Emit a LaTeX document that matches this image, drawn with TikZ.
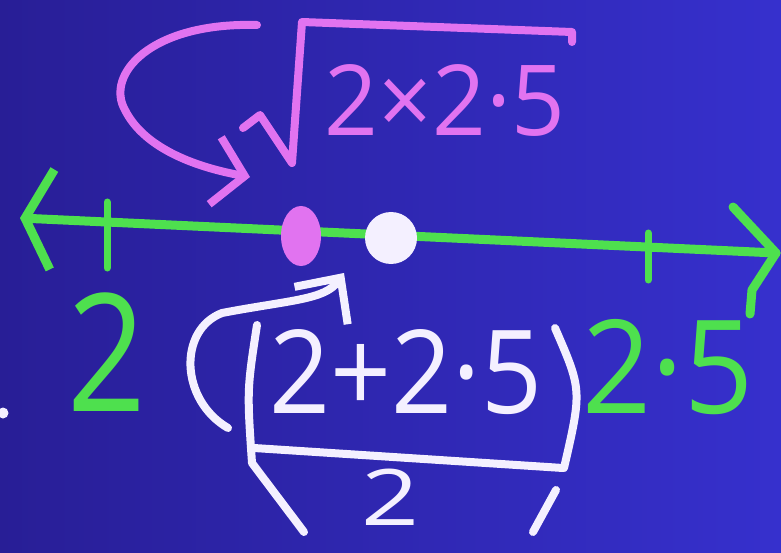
\documentclass[tikz,border=0pt]{standalone}
\usepackage{fontspec}
\setmainfont{Open Sans}
\usetikzlibrary{positioning,arrows.meta,calc,shapes.geometric}
\definecolor{boardL}{RGB}{40,30,150}
\definecolor{boardR}{RGB}{54,48,205}
\definecolor{chalkG}{HTML}{4EE04E}
\definecolor{chalkP}{HTML}{E173F0}
\definecolor{chalkW}{HTML}{F4F0FF}
\tikzset{
  pen/.style={line width=8pt, line cap=round, line join=round},
  axis/.style={pen, draw=chalkG, line width=9pt},
  tick/.style={pen, draw=chalkG, line width=7pt},
  txt/.style={inner sep=0pt, font=\fontsize{#1}{#1}\selectfont},
  dot/.style={fill=#1, inner sep=0pt},
}

\begin{document}
\begin{tikzpicture}[x=1pt, y=-1pt]
  \useasboundingbox (0,0) rectangle (781,553);
  \clip (0,0) rectangle (781,553);
  \shade[left color=boardL, right color=boardR] (0,0) rectangle (781,553);

  % ------------------------------------------------ the number line
  \coordinate (lend) at (20,218);
  \coordinate (rend) at (776,253);
  \draw[axis, {Straight Barb[length=27pt,width=100pt]}-] (lend) -- (rend);
  \draw[axis] (733,207) -- (rend) -- (752,290) -- (750,314);
  \draw[tick] (107,202) -- (107,268);
  \draw[tick] (648,233) -- (648,280);

  \node[txt=164pt, text=chalkG, xscale=0.84] (lo) at (107,352) {2};
  \node[txt=130pt, text=chalkG, xscale=0.93] (hi) at (668,367) {2·5};
  \node[dot=chalkW, circle, minimum size=11pt] (stray) at (3,413) {};

  % ------------------------------------------------ the two means
  \node[dot=chalkP, ellipse, minimum width=40pt, minimum height=60pt] (gm) at (301,236) {};
  \node[dot=chalkW, circle, minimum size=52pt] (am) at (391,238) {};

  % ------------------------------------------------ geometric mean
  \node[txt=98pt, text=chalkP, xscale=0.96] (gmtxt) at (445,100) {2×2·5};
  \draw[pen, draw=chalkP] (243,128) -- (260,115) -- (292,163) -- (302,22) -- (572,32) -- (572,42);
  \coordinate (gmfrom) at (257,25);
  \coordinate (gmtip) at (250,177);
  \draw[pen, draw=chalkP, -{Straight Barb[length=30pt,width=68pt]}]
    (gmfrom) .. controls (150,22) and (105,75) .. (125,110)
    .. controls (145,150) and (200,168) .. (gmtip);

  % ------------------------------------------------ arithmetic mean
  \node[txt=116pt, text=chalkW, xscale=0.92] (amnum) at (406,372) {2+2·5};
  \node[txt=78pt, text=chalkW, xscale=1.3] (amden) at (390,497) {2};
  \draw[pen, draw=chalkW] (254,448) -- (563,468);
  \draw[pen, draw=chalkW] (257,325) .. controls (247,390) .. (252,463) -- (304,532);
  \draw[pen, draw=chalkW] (555,328) .. controls (582,390) .. (564,468);
  \draw[pen, draw=chalkW] (556,490) -- (533,532);
  \coordinate (amfrom) at (228,428);
  \coordinate (amtip) at (344,273);
  \draw[pen, draw=chalkW, -{Straight Barb[length=34pt,width=65pt]}]
    (amfrom) .. controls (180,400) and (178,330) .. (222,313)
    .. controls (290,300) and (325,300) .. (amtip);
\end{tikzpicture}
\end{document}
